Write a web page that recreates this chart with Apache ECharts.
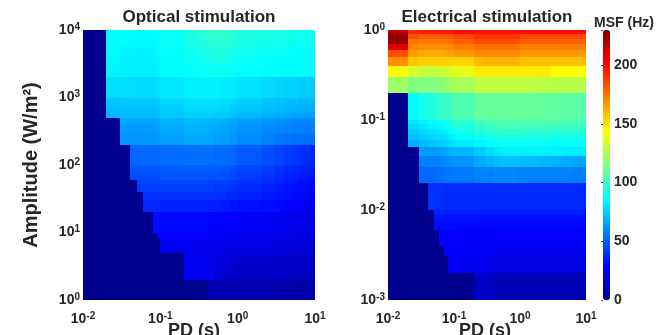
<!DOCTYPE html>
<html>
<head>
<meta charset="utf-8">
<script src="https://cdn.jsdelivr.net/npm/echarts@6/dist/echarts.min.js"></script>
<style>
  html, body { margin: 0; padding: 0; background: #fff; }
  #chart { width: 667px; height: 335px; }
</style>
</head>
<body>
<div id="chart"></div>
<script>
// cell edges along pulse duration (s)
var pdEdges = [0.01, 0.02, 0.03, 0.04, 0.05, 0.06, 0.07, 0.08, 0.09,
  0.1, 0.2, 0.3, 0.4, 0.5, 0.6, 0.7, 0.8, 0.9,
  1, 2, 3, 4, 5, 6, 7, 8, 9, 10]

// cell edges along amplitude, top row first
var optAmpEdges = [10000, 9000, 8000, 7000, 6000, 5000, 4000, 3000, 2000,
  1000, 900, 800, 700, 600, 500, 400, 300, 200,
  100, 90, 80, 70, 60, 50, 40, 30, 20,
  10, 9, 8, 7, 6, 5, 4, 3, 2, 1]
var elecAmpEdges = [1, 0.9, 0.8, 0.7, 0.6, 0.5, 0.4, 0.3, 0.2,
  0.1, 0.09, 0.08, 0.07, 0.06, 0.05, 0.04, 0.03, 0.02,
  0.01, 0.009, 0.008, 0.007, 0.006, 0.005, 0.004, 0.003, 0.002, 0.001]

// MSF (Hz), optical stimulation, rows from top (high amplitude) to bottom
var optMsf = [
  [0, 86, 86, 86, 86, 86, 86, 86, 86, 88, 92, 95, 97, 98, 98, 97, 96, 95, 93, 92, 92, 91, 91, 90, 90, 90, 90],
  [0, 86, 86, 86, 86, 86, 86, 86, 86, 88, 92, 95, 97, 98, 98, 97, 96, 95, 93, 92, 92, 91, 91, 90, 90, 90, 90],
  [0, 86, 86, 86, 86, 86, 86, 86, 86, 88, 91, 94, 96, 97, 97, 96, 95, 94, 92, 91, 91, 90, 90, 89, 89, 89, 89],
  [0, 86, 86, 85, 85, 85, 85, 85, 86, 88, 91, 93, 95, 96, 96, 95, 94, 93, 91, 90, 90, 89, 89, 88, 88, 88, 88],
  [0, 86, 85, 85, 84, 84, 84, 85, 86, 87, 90, 92, 94, 95, 95, 94, 93, 92, 90, 89, 89, 88, 88, 87, 87, 87, 87],
  [0, 86, 84, 84, 83, 83, 83, 84, 85, 87, 89, 91, 92, 93, 93, 92, 91, 90, 89, 88, 88, 87, 87, 86, 86, 86, 86],
  [0, 85, 83, 83, 83, 83, 83, 83, 84, 86, 88, 89, 90, 91, 91, 90, 89, 88, 88, 87, 87, 86, 86, 86, 86, 86, 86],
  [0, 84, 83, 83, 83, 83, 83, 83, 84, 86, 87, 88, 89, 89, 89, 88, 88, 87, 87, 86, 86, 86, 86, 86, 86, 86, 86],
  [0, 79, 79, 78, 78, 78, 78, 78, 79, 81, 83, 83, 83, 83, 82, 82, 82, 81, 80, 78, 77, 76, 76, 75, 75, 75, 75],
  [0, 74, 75, 75, 75, 75, 75, 75, 76, 78, 80, 80, 80, 80, 79, 79, 78, 77, 76, 74, 73, 72, 72, 71, 71, 71, 71],
  [0, 73, 74, 74, 74, 74, 74, 74, 75, 77, 79, 79, 79, 79, 78, 78, 77, 76, 75, 73, 72, 71, 71, 70, 70, 70, 70],
  [0, 72, 73, 73, 73, 73, 73, 73, 74, 76, 78, 78, 78, 78, 77, 77, 76, 75, 74, 72, 71, 70, 70, 69, 69, 69, 69],
  [0, 71, 72, 72, 72, 72, 72, 72, 73, 75, 77, 77, 77, 77, 76, 76, 75, 74, 73, 71, 70, 69, 68, 68, 68, 68, 68],
  [0, 70, 71, 71, 71, 71, 71, 71, 72, 74, 76, 76, 76, 75, 75, 74, 73, 72, 71, 69, 68, 67, 66, 66, 66, 66, 66],
  [0, 0, 66, 66, 66, 66, 66, 66, 67, 69, 71, 71, 70, 69, 68, 68, 67, 66, 64, 62, 61, 60, 59, 59, 59, 59, 59],
  [0, 0, 64, 64, 64, 64, 64, 64, 65, 67, 69, 69, 68, 67, 66, 66, 65, 64, 62, 60, 59, 58, 57, 57, 57, 57, 57],
  [0, 0, 62, 62, 62, 62, 62, 62, 63, 65, 67, 67, 66, 65, 64, 64, 63, 62, 60, 58, 56, 55, 54, 54, 54, 54, 54],
  [0, 0, 0, 52, 52, 52, 52, 52, 52, 53, 54, 54, 54, 53, 53, 52, 52, 51, 49, 46, 44, 42, 41, 40, 39, 38, 37],
  [0, 0, 0, 49, 49, 49, 49, 49, 49, 50, 50, 50, 50, 50, 49, 49, 48, 47, 45, 43, 41, 39, 38, 37, 37, 36, 36],
  [0, 0, 0, 48, 48, 48, 48, 48, 48, 49, 49, 49, 49, 49, 48, 48, 47, 46, 44, 42, 40, 38, 37, 36, 36, 35, 35],
  [0, 0, 0, 47, 47, 47, 47, 47, 47, 48, 48, 48, 48, 48, 47, 47, 46, 45, 43, 41, 39, 37, 36, 35, 35, 34, 34],
  [0, 0, 0, 46, 46, 46, 46, 46, 46, 47, 47, 47, 47, 47, 46, 46, 45, 44, 42, 40, 38, 36, 35, 34, 34, 33, 33],
  [0, 0, 0, 0, 44, 44, 44, 44, 44, 44, 44, 44, 44, 43, 43, 42, 42, 41, 40, 38, 36, 34, 33, 32, 32, 31, 31],
  [0, 0, 0, 0, 42, 42, 42, 42, 42, 42, 42, 42, 42, 41, 41, 40, 40, 39, 38, 36, 34, 33, 32, 31, 31, 30, 30],
  [0, 0, 0, 0, 0, 40, 40, 40, 40, 40, 40, 40, 40, 39, 39, 38, 38, 37, 36, 34, 33, 32, 31, 30, 30, 29, 29],
  [0, 0, 0, 0, 0, 37, 37, 37, 37, 36, 36, 36, 35, 35, 34, 34, 33, 33, 32, 31, 30, 29, 28, 27, 27, 27, 27],
  [0, 0, 0, 0, 0, 0, 0, 31, 31, 30, 30, 30, 29, 29, 29, 28, 28, 28, 27, 26, 25, 24, 24, 23, 23, 23, 23],
  [0, 0, 0, 0, 0, 0, 0, 0, 28, 28, 28, 28, 27, 27, 27, 26, 26, 26, 25, 24, 23, 22, 22, 21, 21, 21, 21],
  [0, 0, 0, 0, 0, 0, 0, 0, 27, 27, 27, 27, 26, 26, 26, 25, 25, 25, 24, 23, 22, 21, 21, 20, 20, 20, 20],
  [0, 0, 0, 0, 0, 0, 0, 0, 0, 26, 26, 26, 25, 25, 25, 24, 24, 24, 23, 22, 21, 21, 20, 20, 20, 19, 19],
  [0, 0, 0, 0, 0, 0, 0, 0, 0, 25, 25, 25, 24, 24, 24, 23, 23, 23, 22, 21, 20, 20, 19, 19, 19, 18, 18],
  [0, 0, 0, 0, 0, 0, 0, 0, 0, 24, 24, 24, 23, 23, 23, 22, 22, 22, 21, 20, 19, 19, 18, 18, 18, 17, 17],
  [0, 0, 0, 0, 0, 0, 0, 0, 0, 0, 26, 25, 22, 21, 20, 20, 19, 19, 18, 17, 16, 16, 15, 15, 15, 14, 14],
  [0, 0, 0, 0, 0, 0, 0, 0, 0, 0, 26, 25, 23, 21, 19, 18, 17, 17, 16, 16, 15, 15, 14, 14, 14, 13, 13],
  [0, 0, 0, 0, 0, 0, 0, 0, 0, 0, 27, 26, 24, 18, 17, 16, 16, 15, 15, 15, 14, 14, 13, 13, 13, 12, 12],
  [0, 0, 0, 0, 0, 0, 0, 0, 0, 0, 0, 0, 9, 9, 8, 8, 8, 8, 8, 8, 7, 7, 7, 7, 7, 7, 7]
]

// MSF (Hz), electrical stimulation, rows from top (high amplitude) to bottom
var elecMsf = [
  [216, 192, 194, 195, 195, 196, 196, 196, 197, 199, 197, 197, 197, 197, 197, 197, 197, 198, 199, 199, 199, 199, 199, 199, 199, 199, 199],
  [227, 184, 180, 180, 180, 181, 181, 182, 183, 185, 190, 190, 190, 190, 190, 190, 190, 189, 185, 185, 185, 185, 185, 185, 185, 185, 185],
  [224, 176, 174, 174, 174, 175, 175, 176, 177, 180, 184, 184, 184, 184, 184, 184, 184, 183, 180, 180, 180, 179, 179, 179, 179, 179, 179],
  [208, 171, 169, 169, 169, 169, 170, 170, 171, 174, 177, 177, 177, 177, 177, 177, 177, 176, 173, 173, 173, 173, 173, 173, 173, 173, 173],
  [184, 166, 163, 163, 163, 163, 164, 164, 165, 167, 170, 170, 170, 170, 170, 170, 170, 170, 167, 167, 167, 167, 167, 167, 167, 167, 167],
  [169, 157, 155, 155, 155, 155, 155, 154, 154, 153, 160, 161, 161, 161, 161, 161, 161, 160, 158, 158, 158, 158, 158, 158, 158, 158, 158],
  [144, 134, 130, 130, 130, 131, 132, 134, 136, 138, 148, 148, 148, 148, 148, 148, 148, 148, 148, 148, 144, 144, 144, 144, 144, 144, 144],
  [121, 116, 115, 115, 116, 117, 119, 121, 123, 124, 129, 129, 129, 129, 129, 129, 129, 129, 129, 128, 127, 127, 127, 127, 127, 127, 127],
  [0, 86, 91, 93, 96, 98, 99, 100, 101, 104, 109, 109, 109, 109, 109, 109, 109, 109, 109, 108, 108, 107, 107, 107, 106, 106, 106],
  [0, 80, 84, 86, 86, 88, 90, 92, 94, 96, 100, 102, 103, 104, 104, 104, 104, 104, 104, 104, 103, 103, 103, 102, 102, 102, 102],
  [0, 77, 81, 83, 84, 86, 88, 90, 92, 94, 98, 100, 101, 102, 102, 102, 102, 102, 101, 101, 100, 100, 100, 100, 100, 100, 100],
  [0, 75, 78, 80, 81, 82, 84, 86, 88, 90, 94, 96, 97, 98, 98, 98, 97, 97, 97, 97, 96, 96, 96, 96, 96, 96, 96],
  [0, 72, 75, 77, 78, 79, 80, 82, 84, 86, 89, 91, 92, 92, 92, 92, 92, 92, 92, 92, 91, 91, 91, 91, 91, 91, 91],
  [0, 68, 71, 73, 74, 75, 76, 78, 80, 82, 84, 86, 87, 88, 88, 88, 88, 88, 88, 88, 87, 87, 87, 87, 87, 87, 87],
  [0, 0, 64, 64, 64, 65, 66, 68, 69, 70, 75, 79, 81, 82, 83, 83, 83, 83, 83, 83, 83, 83, 82, 82, 82, 82, 82],
  [0, 0, 58, 58, 58, 59, 60, 61, 62, 62, 67, 70, 71, 72, 72, 72, 72, 72, 71, 70, 69, 68, 67, 66, 66, 66, 66],
  [0, 0, 52, 52, 53, 54, 55, 55, 56, 56, 58, 58, 59, 59, 59, 59, 59, 58, 58, 58, 58, 58, 58, 57, 57, 57, 57],
  [0, 0, 0, 40, 40, 39, 38, 38, 38, 38, 38, 38, 38, 38, 38, 38, 38, 38, 38, 38, 38, 38, 38, 38, 38, 38, 38],
  [0, 0, 0, 0, 36, 36, 35, 35, 35, 35, 35, 35, 35, 35, 35, 35, 35, 35, 35, 35, 35, 35, 35, 35, 35, 35, 35],
  [0, 0, 0, 0, 34, 34, 33, 33, 33, 33, 33, 33, 33, 33, 33, 33, 33, 33, 33, 33, 33, 33, 33, 33, 33, 33, 33],
  [0, 0, 0, 0, 32, 32, 32, 32, 32, 32, 31, 31, 31, 31, 31, 31, 31, 31, 31, 31, 31, 31, 31, 31, 31, 31, 31],
  [0, 0, 0, 0, 31, 31, 31, 31, 31, 30, 30, 30, 30, 30, 30, 30, 30, 30, 30, 30, 30, 30, 30, 30, 30, 30, 30],
  [0, 0, 0, 0, 0, 29, 29, 29, 29, 29, 29, 29, 28, 28, 28, 28, 28, 28, 28, 28, 28, 28, 28, 28, 28, 28, 28],
  [0, 0, 0, 0, 0, 28, 28, 28, 28, 28, 27, 27, 27, 27, 27, 27, 27, 27, 27, 27, 27, 27, 27, 27, 27, 27, 27],
  [0, 0, 0, 0, 0, 0, 27, 27, 27, 27, 26, 26, 25, 25, 24, 24, 24, 24, 24, 24, 24, 24, 24, 24, 24, 24, 24],
  [0, 0, 0, 0, 0, 0, 0, 26, 26, 26, 25, 24, 22, 21, 21, 21, 21, 21, 21, 21, 21, 21, 21, 21, 21, 21, 21],
  [0, 0, 0, 0, 0, 0, 0, 0, 0, 0, 14, 14, 10, 10, 10, 10, 10, 10, 10, 10, 10, 10, 10, 10, 10, 10, 10]
]

var msfTicks = [0, 50, 100, 150, 200]
var msfMax = 230

// MATLAB jet
var jet = ['#00008f', '#0000ff', '#0080ff', '#00ffff', '#80ff80', '#ffff00', '#ff8000', '#ff0000', '#800000']

var font = 'Liberation Sans'
var textColor = '#262626'

function buildCells(ampEdges, matrix) {
  var cells = []
  for (var i = 0; i < matrix.length; i++) {
    for (var j = 0; j < matrix[i].length; j++) {
      cells.push([pdEdges[j], pdEdges[j + 1], ampEdges[i + 1], ampEdges[i], matrix[i][j]])
    }
  }
  return cells
}

// snap cell corners to whole pixels so neighbours meet without seams
function renderCell(params, api) {
  var a = api.coord([api.value(0), api.value(3)])
  var b = api.coord([api.value(1), api.value(2)])
  var x0 = Math.round(a[0]), y0 = Math.round(a[1])
  var x1 = Math.round(b[0]), y1 = Math.round(b[1])
  return {
    type: 'rect',
    shape: { x: x0, y: y0, width: x1 - x0, height: y1 - y0 },
    style: { fill: api.visual('color') }
  }
}

// 10 with a superscript exponent
function powLabel(v) {
  return '{b|10}{s|' + Math.round(Math.log10(v)) + '}'
}

var powRich = {
  b: { fontSize: 14, fontWeight: 'bold', fontFamily: font, color: textColor, lineHeight: 16 },
  s: { fontSize: 10, fontWeight: 'bold', fontFamily: font, color: textColor, lineHeight: 8, verticalAlign: 'top' }
}

function logAxis(grid, min, max, isX, name, nameOpts) {
  var ax = {
    gridIndex: grid,
    type: 'log',
    logBase: 10,
    min: min,
    max: max,
    axisLine: { show: false },
    axisTick: { show: false },
    splitLine: { show: false },
    axisLabel: {
      formatter: powLabel,
      rich: powRich,
      margin: isX ? 11 : 3,
      showMinLabel: true,
      showMaxLabel: true
    }
  }
  if (name) {
    ax.name = name
    ax.nameLocation = 'middle'
    ax.nameMoveOverlap = false
    ax.nameTextStyle = { fontFamily: font, fontWeight: 'bold', color: textColor, fontSize: nameOpts.size, padding: nameOpts.padding || 0 }
    ax.nameGap = nameOpts.gap
    if (nameOpts.rotate) ax.nameRotate = nameOpts.rotate
  }
  return ax
}

var chart = echarts.init(document.getElementById('chart'))

var titleStyle = { fontFamily: font, fontWeight: 'bold', color: textColor, fontSize: 17 }

var option = {
  animation: false,
  backgroundColor: '#fff',
  title: [
    { text: 'Optical stimulation', left: 199, top: 17, textAlign: 'center', textVerticalAlign: 'middle', padding: 0, textStyle: titleStyle },
    { text: 'Electrical stimulation', left: 487, top: 17, textAlign: 'center', textVerticalAlign: 'middle', padding: 0, textStyle: titleStyle },
    { text: 'MSF (Hz)', left: 624, top: 23, textAlign: 'center', textVerticalAlign: 'middle', padding: 0,
      textStyle: { fontFamily: font, fontWeight: 'bold', color: textColor, fontSize: 14 } }
  ],
  grid: [
    { left: 83, top: 30, width: 232, height: 270, outerBoundsMode: 'none', containLabel: false },
    { left: 388, top: 30, width: 198, height: 270, outerBoundsMode: 'none', containLabel: false },
    { left: 603, top: 30, width: 7, height: 270, outerBoundsMode: 'none', containLabel: false }
  ],
  xAxis: [
    logAxis(0, 0.01, 10, true, 'PD (s)', { size: 18, gap: 22, padding: [0, 10, 0, 0] }),
    logAxis(1, 0.01, 10, true, 'PD (s)', { size: 18, gap: 22, padding: [0, 4, 0, 0] }),
    { gridIndex: 2, type: 'value', show: false, min: 0, max: 1 }
  ],
  yAxis: [
    logAxis(0, 1, 10000, false, 'Amplitude (W/m²)', { size: 20, gap: 42, rotate: 90 }),
    logAxis(1, 0.001, 1, false),
    {
      gridIndex: 2,
      type: 'value',
      position: 'right',
      min: 0,
      max: msfMax,
      interval: 50,
      axisLine: { show: false },
      splitLine: { show: false },
      axisTick: { show: true, inside: true, length: 2, lineStyle: { color: '#444' } },
      axisLabel: {
        margin: 4,
        fontFamily: font,
        fontWeight: 'bold',
        fontSize: 14,
        color: textColor,
        formatter: function (v) { return msfTicks.indexOf(v) >= 0 ? String(v) : '' }
      }
    }
  ],
  visualMap: {
    type: 'continuous',
    min: 0,
    max: msfMax,
    dimension: 4,
    seriesIndex: [0, 1],
    calculable: false,
    left: 603,
    top: 30,
    itemWidth: 7,
    itemHeight: 270,
    padding: 0,
    inRange: { color: jet }
  },
  series: [
    {
      type: 'custom',
      name: 'Optical stimulation',
      xAxisIndex: 0,
      yAxisIndex: 0,
      renderItem: renderCell,
      encode: { x: [0, 1], y: [2, 3] },
      data: buildCells(optAmpEdges, optMsf)
    },
    {
      type: 'custom',
      name: 'Electrical stimulation',
      xAxisIndex: 1,
      yAxisIndex: 1,
      renderItem: renderCell,
      encode: { x: [0, 1], y: [2, 3] },
      data: buildCells(elecAmpEdges, elecMsf)
    }
  ]
}

chart.setOption(option)
window.addEventListener('resize', function () {
  chart.resize()
})
</script>
</body>
</html>
